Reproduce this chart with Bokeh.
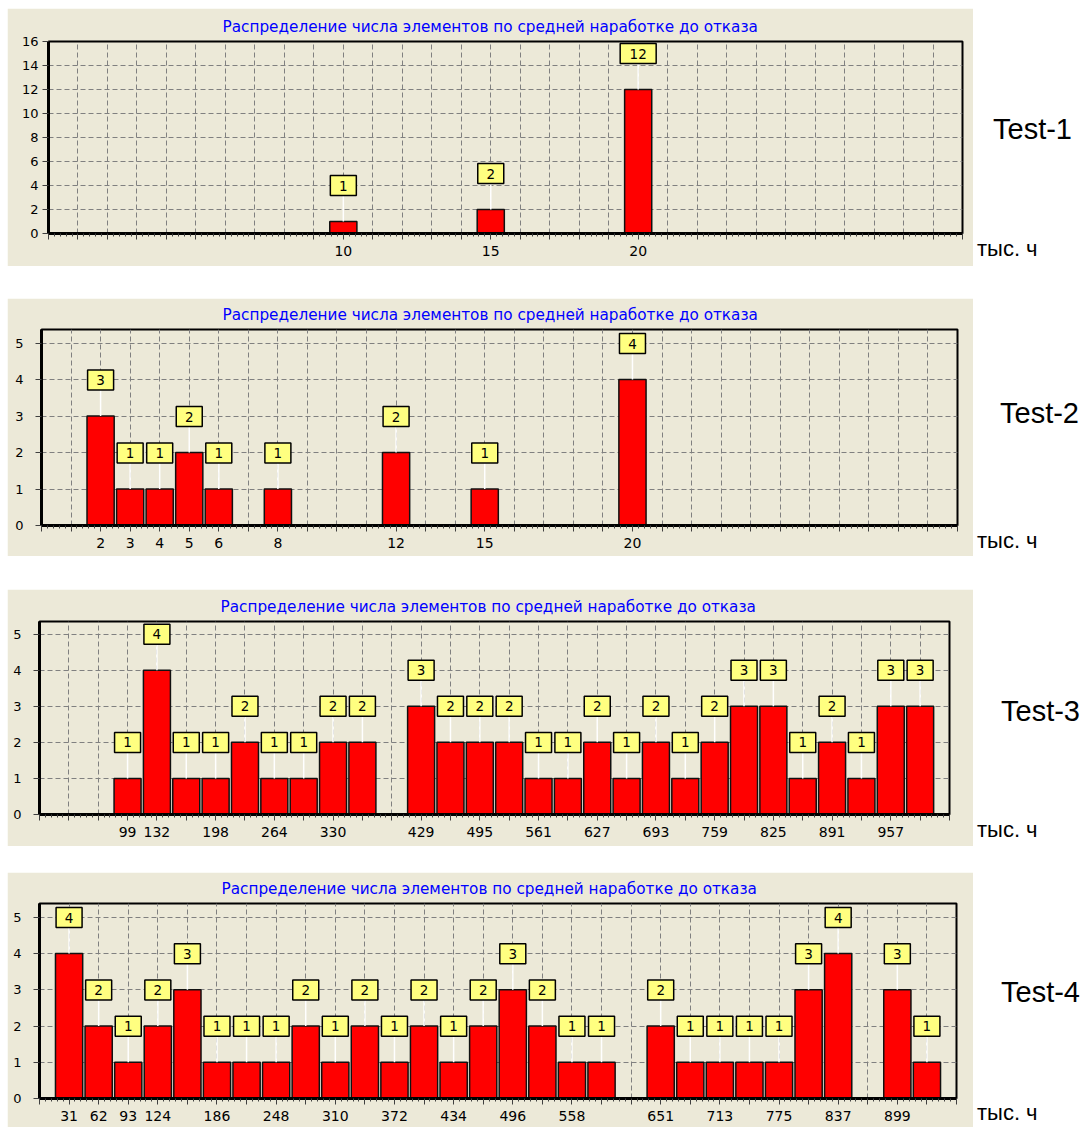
from bokeh.plotting import figure
from bokeh.layouts import column, row
from bokeh.models import Range1d, FixedTicker, Spacer, Div
from bokeh.core.properties import value
from bokeh.embed import file_html
from bokeh.resources import INLINE

TITLE = "Распределение числа элементов по средней наработке до отказа"
UNIT_LABEL = "тыс. ч"

# ---------------- data ----------------
t1_x = [10, 15, 20]
t1_counts = [1, 2, 12]
t1_ticklabels = [10, 15, 20]
t1_yticks = [0, 2, 4, 6, 8, 10, 12, 14, 16]

t2_x = [2, 3, 4, 5, 6, 8, 12, 15, 20]
t2_counts = [3, 1, 1, 2, 1, 1, 2, 1, 4]
t2_ticklabels = [2, 3, 4, 5, 6, 8, 12, 15, 20]
t2_yticks = [0, 1, 2, 3, 4, 5]

t3_x = [99, 132, 165, 198, 231, 264, 297, 330, 363,
        429, 462, 495, 528, 561, 594, 627, 660, 693, 726, 759, 792, 825, 858, 891, 924, 957, 990]
t3_counts = [1, 4, 1, 1, 2, 1, 1, 2, 2,
             3, 2, 2, 2, 1, 1, 2, 1, 2, 1, 2, 3, 3, 1, 2, 1, 3, 3]
t3_ticklabels = [99, 132, 198, 264, 330, 429, 495, 561, 627, 693, 759, 825, 891, 957]
t3_yticks = [0, 1, 2, 3, 4, 5]

t4_x = [31, 62, 93, 124, 155, 186, 217, 248, 279, 310, 341, 372, 403, 434, 465, 496, 527, 558, 589,
        651, 682, 713, 744, 775, 806, 837,
        899, 930]
t4_counts = [4, 2, 1, 2, 3, 1, 1, 1, 2, 1, 2, 1, 2, 1, 2, 3, 2, 1, 1,
             2, 1, 1, 1, 1, 3, 4,
             3, 1]
t4_ticklabels = [31, 62, 93, 124, 186, 248, 310, 372, 434, 496, 558, 651, 713, 775, 837, 899]
t4_yticks = [0, 1, 2, 3, 4, 5]

# ---------------- layout / style ----------------
BG = "#ECE9D8"
LEFT = 7          # page x of the grey panel
TOP = 8           # page y of first panel
PANEL_W = 966
SIDE_W = 105
SIDE_X0 = LEFT + PANEL_W

panels = [
    dict(name="Test-1", x=t1_x, counts=t1_counts, ticklabels=t1_ticklabels, yticks=t1_yticks,
         step=1, nbins=31, ymax=16, top=8, height=258, bt=33, fh=192, bl=41, fw=914,
         ystand=4, toff=174, test_x=993, test_y=129),
    dict(name="Test-2", x=t2_x, counts=t2_counts, ticklabels=t2_ticklabels, yticks=t2_yticks,
         step=1, nbins=31, ymax=5.37, top=298, height=258, bt=31, fh=196, bl=34, fw=916,
         ystand=12, toff=181, test_x=1000, test_y=413),
    dict(name="Test-3", x=t3_x, counts=t3_counts, ticklabels=t3_ticklabels, yticks=t3_yticks,
         step=33, nbins=31, ymax=5.35, top=589, height=257, bt=32, fh=193, bl=32, fw=910,
         ystand=12, toff=181, test_x=1001, test_y=711),
    dict(name="Test-4", x=t4_x, counts=t4_counts, ticklabels=t4_ticklabels, yticks=t4_yticks,
         step=31, nbins=31, ymax=5.38, top=872, height=255, bt=30, fh=195, bl=32, fw=917,
         ystand=12, toff=182, test_x=1001, test_y=992),
]


def make_panel(cfg):
    step = cfg["step"]
    nb = cfg["nbins"]
    xmax = step * nb
    bb = cfg["height"] - cfg["bt"] - cfg["fh"]
    p = figure(
        title=TITLE,
        x_range=Range1d(0, xmax), y_range=Range1d(0, cfg["ymax"]),
        frame_width=cfg["fw"], frame_height=cfg["fh"],
        min_border_left=cfg["bl"], min_border_right=PANEL_W - cfg["bl"] - cfg["fw"],
        min_border_top=cfg["bt"], min_border_bottom=bb,
        output_backend="svg", toolbar_location=None,
        background_fill_color=BG, border_fill_color=BG,
        outline_line_color="black", outline_line_width=2,
    )
    p.title.text_font = "DejaVu Sans"
    p.title.text_font_size = "15.25px"
    p.title.text_font_style = "normal"
    p.title.text_color = "#0000FF"
    p.title.align = "left"
    p.title.offset = cfg["toff"]
    p.title.standoff = 11

    bins = [step * i for i in range(nb + 1)]
    minor = [step * i + step * k / 5 for i in range(nb) for k in range(1, 5)]
    xa = p.xaxis[0]
    xa.ticker = FixedTicker(ticks=bins, minor_ticks=minor)
    xa.major_label_overrides = {b: "" for b in bins if b not in cfg["ticklabels"]}
    xa.axis_line_width = 3
    xa.axis_line_color = "black"
    xa.major_tick_out = 6
    xa.major_tick_in = 0
    xa.minor_tick_out = 3
    xa.minor_tick_in = 0
    xa.major_tick_line_color = "#404040"
    xa.minor_tick_line_color = "#404040"
    xa.major_label_standoff = 6
    xa.major_label_text_font = "DejaVu Sans"
    xa.major_label_text_font_size = "14px"
    xa.major_label_text_color = "black"

    ya = p.yaxis[0]
    ya.ticker = FixedTicker(ticks=cfg["yticks"])
    ya.axis_line_width = 3
    ya.axis_line_color = "black"
    ya.major_tick_out = 6
    ya.major_tick_in = 0
    ya.minor_tick_line_color = None
    ya.major_tick_line_color = "#404040"
    ya.major_label_standoff = cfg["ystand"]
    ya.major_label_text_font = "DejaVu Sans"
    ya.major_label_text_font_size = "13px"
    ya.major_label_text_color = "black"

    p.xgrid.ticker = FixedTicker(ticks=bins[1:-1])
    p.ygrid.ticker = FixedTicker(ticks=cfg["yticks"][1:])
    for g in (p.xgrid, p.ygrid):
        g.grid_line_color = "#808080"
        g.grid_line_dash = "5 3"
        g.grid_line_width = 1

    xs = cfg["x"]
    vals = cfg["counts"]
    ppu = cfg["fh"] / cfg["ymax"]
    p.vbar(x=xs, top=vals, width=0.92 * step, bottom=0,
           fill_color="#FF0000", line_color="#111111", line_width=1.5)
    conn_top = [v + 26 / ppu for v in vals]
    p.segment(x0=xs, y0=vals, x1=xs, y1=conn_top, line_color="white", line_width=1.5)
    texts = [str(v) for v in vals]
    box_y = [v + 36 / ppu for v in vals]
    box_w = [26 if len(t) == 1 else 36 for t in texts]
    p.rect(x=xs, y=box_y, width=box_w, height=20, width_units="screen", height_units="screen",
           fill_color="#FFFF80", line_color="black", line_width=1.5)
    p.text(x=xs, y=box_y, text=texts, text_align="center", text_baseline="middle",
           text_font=value("DejaVu Sans"), text_font_size="13.5px", text_color="black")

    # side area (white) with the test name and the unit label, as HTML text
    top = cfg["top"]
    h = cfg["height"]
    fbot = top + cfg["bt"] + cfg["fh"]
    name_top = cfg["test_y"] - top - 14          # 29px text, line-height 29px
    unit_top = (fbot + 24) - top - 19            # baseline -> box top for 22px text
    html = (
        f'<div style="position:relative;width:{SIDE_W}px;height:{h}px;'
        f'font-family:\'Liberation Sans\',Arial,sans-serif;color:#000;background:#fff;">'
        f'<span style="position:absolute;left:{cfg["test_x"] - SIDE_X0}px;top:{name_top}px;'
        f'font-size:29px;line-height:29px;white-space:nowrap;">{cfg["name"]}</span>'
        f'<span style="position:absolute;left:{977 - SIDE_X0}px;top:{unit_top}px;'
        f'font-size:22px;line-height:22px;white-space:nowrap;">{UNIT_LABEL}</span>'
        f'</div>'
    )
    side = Div(text=html, width=SIDE_W, height=h, margin=0)
    return row(Spacer(width=LEFT, height=10), p, side, spacing=0)


children = [Spacer(height=TOP, width=10)]
prev_bottom = None
for cfg in panels:
    if prev_bottom is not None:
        children.append(Spacer(height=cfg["top"] - prev_bottom, width=10))
    children.append(make_panel(cfg))
    prev_bottom = cfg["top"] + cfg["height"]

layout = column(children, spacing=0)
open("out.html", "w").write(file_html(layout, INLINE))
